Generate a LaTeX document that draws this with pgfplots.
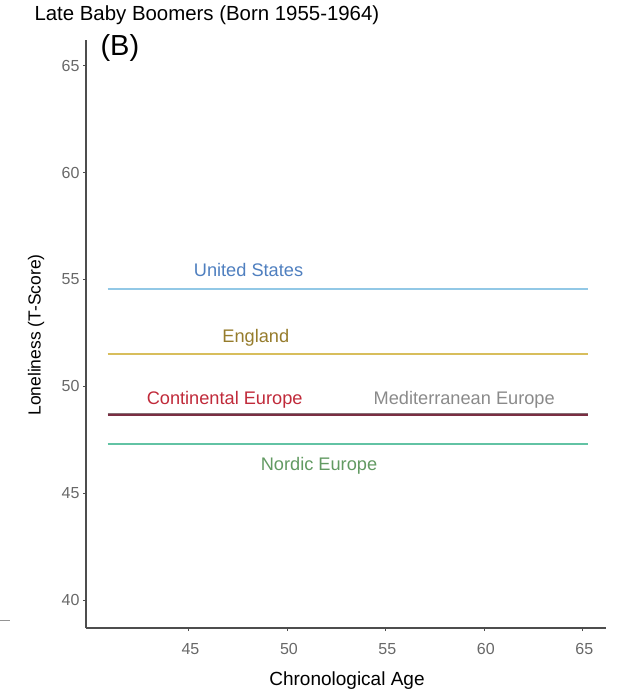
\documentclass[border=0pt]{standalone}
\usepackage{pgfplots}
\pgfplotsset{compat=1.18}
\usepackage{fontspec}
\setmainfont{Liberation Sans}

\definecolor{axgray}{HTML}{4D4D4D}
\definecolor{usline}{HTML}{92C8E6}
\definecolor{ustext}{HTML}{4F7FBF}
\definecolor{enline}{HTML}{D8BE5C}
\definecolor{entext}{HTML}{967C2C}
\definecolor{celine}{HTML}{7A2E42}
\definecolor{cetext}{HTML}{C02A3A}
\definecolor{metext}{HTML}{8A8A8A}
\definecolor{noline}{HTML}{62C3A4}
\definecolor{notext}{HTML}{629A62}

\begin{document}
\begin{tikzpicture}[x=1pt,y=1pt]
\path[use as bounding box] (0,0) rectangle (634,697);
\begin{axis}[
    at={(86pt,69pt)}, anchor=south west,
    scale only axis, width=520pt, height=588pt,
    xmin=39.8, xmax=66.2,
    ymin=38.7, ymax=66.2,
    axis x line*=bottom, axis y line*=left,
    axis line style={-, axgray, line width=1.6pt},
    xtick={45,50,55,60,65},
    ytick={40,45,50,55,60,65},
    tick align=outside, major tick length=3pt,
    tick style={axgray, line width=0.6pt},
    /pgf/number format/assume math mode=true,
    tick label style={font=\fontsize{16}{16}\selectfont, text=axgray!85},
    xticklabel style={yshift=-9pt, xshift=2pt},
    clip=false,
  ]
  \addplot[usline, line width=2pt] coordinates {(40.9,54.56) (65.3,54.56)};
  \addplot[enline, line width=2pt] coordinates {(40.9,51.52) (65.3,51.52)};
  \addplot[metext!70!celine, line width=2pt] coordinates {(40.9,48.70) (65.3,48.70)};
  \addplot[celine, line width=1.6pt] coordinates {(40.9,48.66) (65.3,48.66)};
  \addplot[noline, line width=2pt] coordinates {(40.9,47.30) (65.3,47.30)};

  \node[text=ustext, font=\fontsize{18.2}{18}\selectfont] at (axis cs:48.05,55.45) {United States};
  \node[text=entext, font=\fontsize{18.2}{18}\selectfont] at (axis cs:48.42,52.27) {England};
  \node[text=cetext, font=\fontsize{18.2}{18}\selectfont] at (axis cs:46.84,49.36) {Continental Europe};
  \node[text=metext, font=\fontsize{18.2}{18}\selectfont] at (axis cs:59.0,49.36) {Mediterranean Europe};
  \node[text=notext, font=\fontsize{18.2}{18}\selectfont] at (axis cs:51.63,46.27) {Nordic Europe};
\end{axis}
\node[anchor=west, font=\fontsize{20.4}{20}\selectfont] at (31,682) {Late Baby Boomers (Born 1955-1964)};
\node[anchor=west, font=\fontsize{29}{29}\selectfont] at (97,649) {(B)};
\node[rotate=90, font=\fontsize{17.5}{17.5}\selectfont] at (36,362) {Loneliness (T-Score)};
\node[font=\fontsize{19}{19}\selectfont] at (347,16) {Chronological Age};
\draw[axgray!60, line width=1pt] (0,76) -- (10,76);
\end{tikzpicture}
\end{document}
